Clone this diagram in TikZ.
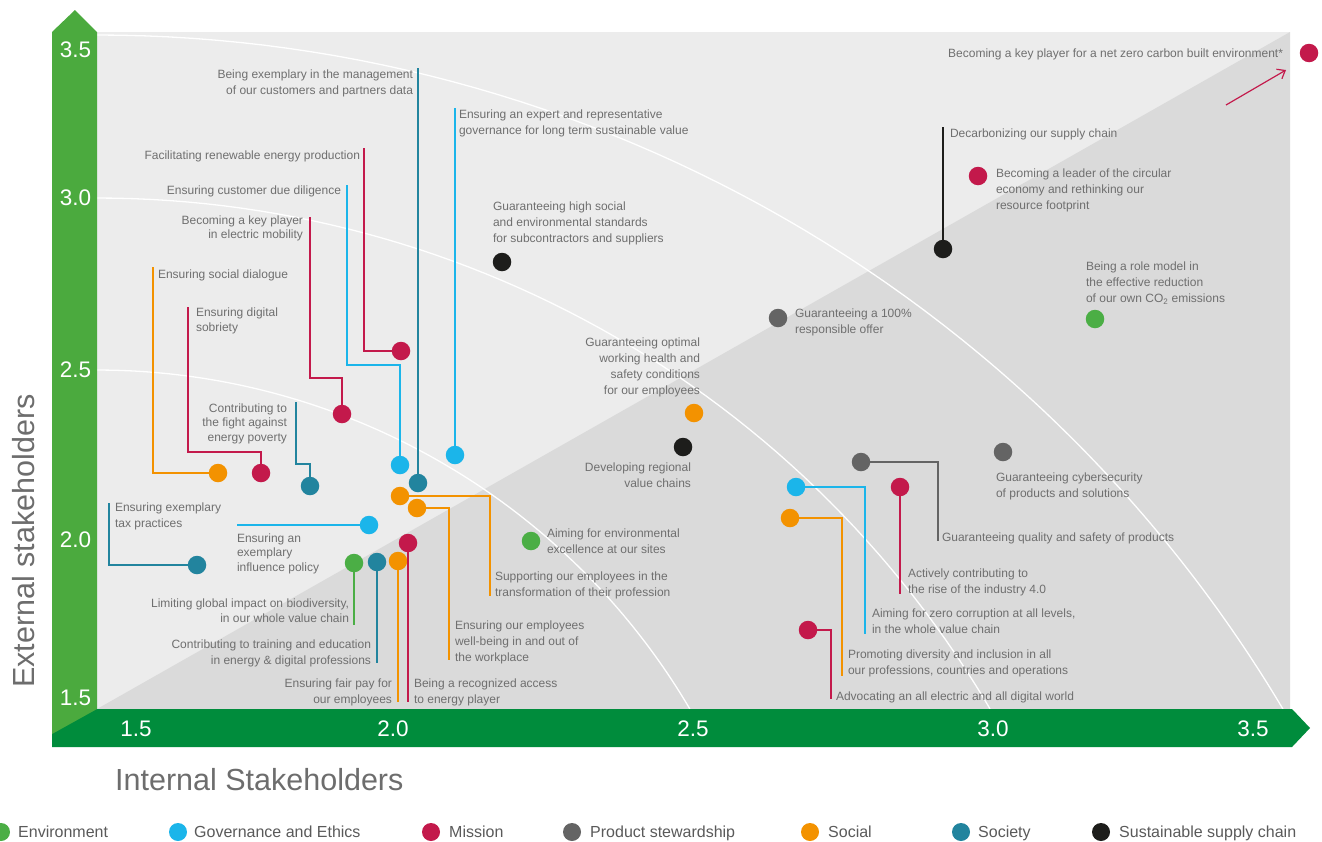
\documentclass[tikz,border=0pt]{standalone}
\usepackage{fontspec}
\setmainfont{Liberation Sans}
\usetikzlibrary{arrows.meta}
\definecolor{cEnv}{HTML}{4BAE45}
\definecolor{cGov}{HTML}{1BB5EA}
\definecolor{cMis}{HTML}{C3194B}
\definecolor{cPro}{HTML}{646464}
\definecolor{cSoc}{HTML}{F39200}
\definecolor{cSty}{HTML}{22849E}
\definecolor{cSup}{HTML}{1D1D1B}
\definecolor{gLight}{HTML}{4BAA3E}
\definecolor{gDark}{HTML}{008C3C}
\definecolor{bgA}{HTML}{ECECEC}
\definecolor{bgB}{HTML}{DADADA}
\definecolor{txt}{HTML}{6F6F6F}
\definecolor{legtxtcol}{HTML}{5A5A5A}
\definecolor{axtxt}{HTML}{6D6D6D}
\tikzset{
  lbl/.style={font=\fontsize{12}{16}\selectfont, text=txt, inner sep=0pt, outer sep=0pt},
  lblL/.style={lbl, anchor=north west, align=left},
  lblR/.style={lbl, anchor=north east, align=right},
  lsA/.style={font=\fontsize{12}{14.5}\selectfont},
  lsB/.style={font=\fontsize{12}{15}\selectfont},
  mdot/.style={circle, fill=#1, draw=none, minimum size=18.5pt, inner sep=0pt, outer sep=0pt},
  leader/.style={draw=#1, line width=1.2pt},
  ticklbl/.style={font=\fontsize{22.5}{26}\selectfont, text=white, inner sep=0pt},
  legdot/.style={circle, fill=#1, minimum size=18pt, inner sep=0pt},
  legtxt/.style={font=\fontsize{16}{18}\selectfont, text=legtxtcol, anchor=base west, inner sep=0pt},
  arcline/.style={draw=white, line width=1.3pt},
  axtitle/.style={font=\fontsize{30.5}{33}\selectfont, text=axtxt, inner sep=0pt},
}
\begin{document}
\begin{tikzpicture}[x=1pt,y=-1pt]
\useasboundingbox (0,0) rectangle (1322,841);
\fill[white] (0,0) rectangle (1322,841);
% plot background
\fill[bgA] (97,32) rectangle (1290,709);
\fill[bgB] (97,709) -- (1290,32) -- (1290,709) -- cycle;
% arcs
\draw[arcline] plot[domain=-90:-30.78, samples=120] ({97+1380.5*cos(\x)},{1415.5+1380.5*sin(\x)});
\draw[arcline] plot[domain=-90:-30.45, samples=120] ({97+1036*cos(\x)},{1234+1036*sin(\x)});
\draw[arcline] plot[domain=-90:-30.48, samples=100] ({97+688*cos(\x)},{1058+688*sin(\x)});
% axes
\fill[gDark] (52,709) -- (1292,709) -- (1310,728) -- (1292,747) -- (52,747) -- cycle;
\fill[gLight] (52,32) -- (75,10) -- (97,32) -- (97,709) -- (52,734) -- cycle;
\node[ticklbl] (y35) at (75.5,50) {3.5};
\node[ticklbl] (y30) at (75.5,198) {3.0};
\node[ticklbl] (y25) at (75.5,370) {2.5};
\node[ticklbl] (y20) at (75.5,540) {2.0};
\node[ticklbl] (y15) at (75.5,698) {1.5};
\node[ticklbl] (x15) at (136,728.5) {1.5};
\node[ticklbl] (x20) at (393,728.5) {2.0};
\node[ticklbl] (x25) at (693,728.5) {2.5};
\node[ticklbl] (x30) at (993,728.5) {3.0};
\node[ticklbl] (x35) at (1253,728.5) {3.5};
\node[axtitle, anchor=base west] (xt) at (115,790) {Internal Stakeholders};
\node[axtitle, anchor=base, rotate=90] (yt) at (34,541) {External stakeholders};

% ---- items ----
% s1
\node[mdot=cSty] (s1) at (418,483) {};
\coordinate (s1e) at (418,68);
\draw[leader=cSty] (s1) -- (s1e);
\node[lblR] (t1) at (413,69.5) {Being exemplary in the management\\of our customers and partners data};
% g2
\node[mdot=cGov] (g2) at (455,455) {};
\coordinate (g2e) at (455,108);
\draw[leader=cGov] (g2) -- (g2e);
\node[lblL] (t2) at (459,109.5) {Ensuring an expert and representative\\governance for long term sustainable value};
% m1
\node[mdot=cMis] (m1) at (401,351) {};
\coordinate (m1e) at (364,148);
\draw[leader=cMis] (m1) -| (m1e);
\node[lblR] (t3) at (360,150.5) {Facilitating renewable energy production};
% g1
\node[mdot=cGov] (g1) at (400,465) {};
\coordinate (g1b) at (347,365);
\coordinate (g1e) at (347,185);
\draw[leader=cGov] (g1) |- (g1b) -- (g1e);
\node[lblR] (t4) at (341,185.5) {Ensuring customer due diligence};
% m2
\node[mdot=cMis] (m2) at (342,414) {};
\coordinate (m2b) at (310,378);
\coordinate (m2e) at (310,217);
\draw[leader=cMis] (m2) |- (m2b) -- (m2e);
\node[lblR, lsA] (t5) at (303,215.5) {Becoming a key player\\in electric mobility};
% o1
\node[mdot=cSoc] (o1) at (218,473) {};
\coordinate (o1e) at (153,267);
\draw[leader=cSoc] (o1) -| (o1e);
\node[lblL] (t6) at (158,269.5) {Ensuring social dialogue};
% m3
\node[mdot=cMis] (m3) at (261,473) {};
\coordinate (m3b) at (188,452);
\coordinate (m3e) at (188,307);
\draw[leader=cMis] (m3) |- (m3b) -- (m3e);
\node[lblL, lsB] (t7) at (196,307.5) {Ensuring digital\\sobriety};
% s2
\node[mdot=cSty] (s2) at (310,486) {};
\coordinate (s2b) at (296,464);
\coordinate (s2e) at (296,402);
\draw[leader=cSty] (s2) |- (s2b) -- (s2e);
\node[lblR, lsA] (t8) at (287,403.5) {Contributing to\\the fight against\\energy poverty};
% s3
\node[mdot=cSty] (s3) at (197,565) {};
\coordinate (s3e) at (109,503);
\draw[leader=cSty] (s3) -| (s3e);
\node[lblL] (t9) at (115,502.5) {Ensuring exemplary\\tax practices};
% g3
\node[mdot=cGov] (g3) at (369,525) {};
\coordinate (g3e) at (237,525);
\draw[leader=cGov] (g3) -- (g3e);
\node[lblL, lsA] (t10) at (237,533.5) {Ensuring an\\exemplary\\influence policy};
% e1
\node[mdot=cEnv] (e1) at (354,563) {};
\coordinate (e1e) at (354,625);
\draw[leader=cEnv] (e1) -- (e1e);
\node[lblR, lsB] (t11) at (349,598.5) {Limiting global impact on biodiversity,\\in our whole value chain};
% s4
\node[mdot=cSty] (s4) at (377,562) {};
\coordinate (s4e) at (377,663);
\draw[leader=cSty] (s4) -- (s4e);
\node[lblR] (t12) at (371,639.5) {Contributing to training and education\\in energy \& digital professions};
% o2
\node[mdot=cSoc] (o2) at (398,561) {};
\coordinate (o2e) at (398,702);
\draw[leader=cSoc] (o2) -- (o2e);
\node[lblR] (t13) at (392,678.5) {Ensuring fair pay for\\our employees};
% m4
\node[mdot=cMis] (m4) at (408,543) {};
\coordinate (m4e) at (408,702);
\draw[leader=cMis] (m4) -- (m4e);
\node[lblL] (t14) at (414,678.5) {Being a recognized access\\to energy player};
% o3
\node[mdot=cSoc] (o3) at (417,508) {};
\coordinate (o3e) at (449,660);
\draw[leader=cSoc] (o3) -| (o3e);
\node[lblL] (t15) at (455,620.5) {Ensuring our employees\\well-being in and out of\\the workplace};
% o4
\node[mdot=cSoc] (o4) at (400,496) {};
\coordinate (o4e) at (490,596);
\draw[leader=cSoc] (o4) -| (o4e);
\node[lblL] (t16) at (495,571.5) {Supporting our employees in the\\transformation of their profession};
% e2
\node[mdot=cEnv] (e2) at (531,541) {};
\node[lblL] (t17) at (547,528.5) {Aiming for environmental\\excellence at our sites};
% k1
\node[mdot=cSup] (k1) at (502,262) {};
\node[lblL] (t18) at (493,201.5) {Guaranteeing high social\\and environmental standards\\for subcontractors and suppliers};
% o5
\node[mdot=cSoc] (o5) at (694,413) {};
\node[lblR] (t19) at (700,337.5) {Guaranteeing optimal\\working health and\\safety conditions\\for our employees};
% k2
\node[mdot=cSup] (k2) at (683,447) {};
\node[lblR] (t20) at (691,462.5) {Developing regional\\value chains};
% p1
\node[mdot=cPro] (p1) at (778,318) {};
\node[lblL] (t21) at (795,308.5) {Guaranteeing a 100\%\\responsible offer};
% k3
\node[mdot=cSup] (k3) at (943,249) {};
\coordinate (k3e) at (943,127);
\draw[leader=cSup] (k3) -- (k3e);
\node[lblL] (t22) at (950,128.5) {Decarbonizing our supply chain};
% m5
\node[mdot=cMis] (m5) at (978,176) {};
\node[lblL] (t23) at (996,168.5) {Becoming a leader of the circular\\economy and rethinking our\\resource footprint};
% e3
\node[mdot=cEnv] (e3) at (1095,319) {};
\node[lblL] (t24) at (1086,261.5) {Being a role model in\\the effective reduction\\of our own CO\textsubscript{2} emissions};
% m6
\node[mdot=cMis] (m6) at (1309,53) {};
\node[lblR] (t25) at (1283,48.5) {Becoming a key player for a net zero carbon built environment*};
\coordinate (a1) at (1226,105);
\coordinate (a2) at (1286,70);
\draw[cMis, line width=1.2pt, -{Straight Barb[length=7pt,width=11pt]}] (a1) -- (a2);
% p2
\node[mdot=cPro] (p2) at (1003,452) {};
\node[lblL] (t26) at (996,472.5) {Guaranteeing cybersecurity\\of products and solutions};
% p3
\node[mdot=cPro] (p3) at (861,462) {};
\coordinate (p3e) at (938,541);
\draw[leader=cPro] (p3) -| (p3e);
\node[lblL] (t27) at (942,532.5) {Guaranteeing quality and safety of products};
% m7
\node[mdot=cMis] (m7) at (900,487) {};
\coordinate (m7e) at (900,594);
\draw[leader=cMis] (m7) -- (m7e);
\node[lblL] (t28) at (908,568.5) {Actively contributing to\\the rise of the industry 4.0};
% g4
\node[mdot=cGov] (g4) at (796,487) {};
\coordinate (g4e) at (865,634);
\draw[leader=cGov] (g4) -| (g4e);
\node[lblL] (t29) at (872,608.5) {Aiming for zero corruption at all levels,\\in the whole value chain};
% o6
\node[mdot=cSoc] (o6) at (790,518) {};
\coordinate (o6e) at (842,676);
\draw[leader=cSoc] (o6) -| (o6e);
\node[lblL] (t30) at (848,649.5) {Promoting diversity and inclusion in all\\our professions, countries and operations};
% m8
\node[mdot=cMis] (m8) at (808,630) {};
\coordinate (m8e) at (831,699);
\draw[leader=cMis] (m8) -| (m8e);
\node[lblL] (t31) at (836,691.5) {Advocating an all electric and all digital world};

% ---- legend ----
\node[legdot=cEnv] (l1) at (1,832) {};
\node[legtxt] (lt1) at (18,837) {Environment};
\node[legdot=cGov] (l2) at (178,832) {};
\node[legtxt] (lt2) at (194,837) {Governance and Ethics};
\node[legdot=cMis] (l3) at (431,832) {};
\node[legtxt] (lt3) at (449,837) {Mission};
\node[legdot=cPro] (l4) at (572,832) {};
\node[legtxt] (lt4) at (590,837) {Product stewardship};
\node[legdot=cSoc] (l5) at (810,832) {};
\node[legtxt] (lt5) at (828,837) {Social};
\node[legdot=cSty] (l6) at (961,832) {};
\node[legtxt] (lt6) at (978,837) {Society};
\node[legdot=cSup] (l7) at (1101,832) {};
\node[legtxt] (lt7) at (1119,837) {Sustainable supply chain};
\end{tikzpicture}
\end{document}
